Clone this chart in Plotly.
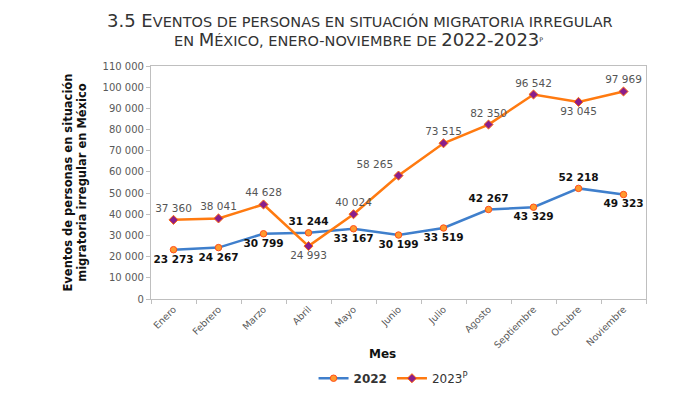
import plotly.graph_objects as go

meses = ["Enero", "Febrero", "Marzo", "Abril", "Mayo", "Junio", "Julio",
         "Agosto", "Septiembre", "Octubre", "Noviembre"]
v2022 = [23273, 24267, 30799, 31244, 33167, 30199, 33519, 42267, 43329, 52218, 49323]
v2023 = [37360, 38041, 44628, 24993, 40024, 58265, 73515, 82350, 96542, 93045, 97969]
pos2022 = ["bottom center", "bottom center", "bottom center", "top center", "bottom center",
           "bottom center", "bottom center", "top center", "bottom center", "top center",
           "bottom center"]
pos2023 = ["top center", "top center", "top center", "bottom center", "top center",
           "top left", "top center", "top center", "top center", "bottom center", "top center"]
yticks = list(range(0, 110001, 10000))
yticklabels = [f"{v:,}".replace(",", " ") for v in yticks]

def fmt(v):
    return f"{v:,}".replace(",", " ")

FONT = "DejaVu Sans"
fig = go.Figure()
fig.add_trace(go.Scatter(
    x=meses, y=v2022, name="<b>2022</b>", mode="lines+markers+text",
    line=dict(color="#3f7fcc", width=2.5),
    marker=dict(symbol="circle", size=6.5, color="#ff9a2e", line=dict(color="#ff4f1a", width=1)),
    text=[fmt(v) for v in v2022], textposition=pos2022,
    texttemplate="<b>%{text}</b>",
    textfont=dict(family=FONT, size=10.5, color="#111111"),
))
fig.add_trace(go.Scatter(
    x=meses, y=v2023, name="2023<sup>P</sup>", mode="lines+markers+text",
    line=dict(color="#ff7a10", width=2.5),
    marker=dict(symbol="diamond", size=7, color="#8a1e8c", line=dict(color="#ff6a10", width=1)),
    text=[fmt(v) for v in v2023], textposition=pos2023,
    textfont=dict(family=FONT, size=10.5, color="#555555"),
))

fig.update_layout(
    width=700, height=397,
    margin=dict(l=143, r=62, t=58, b=103),
    paper_bgcolor="white", plot_bgcolor="white",
    font=dict(family=FONT, color="#595959", size=10),
    showlegend=True,
    legend=dict(orientation="h", x=0.49, xanchor="center", y=-0.34, yanchor="middle",
                font=dict(family=FONT, size=12, color="#333333"), itemwidth=30),
    xaxis=dict(
        type="category", range=[-0.5, 10.5], showline=True, linecolor="#bfbfbf", linewidth=1.2,
        mirror=True, ticks="outside", tickson="boundaries", ticklen=4, tickcolor="#bfbfbf",
        tickangle=-45, tickfont=dict(family=FONT, size=9.5, color="#595959"), showgrid=False,
    ),
    yaxis=dict(
        range=[0, 110000], tickvals=yticks, ticktext=yticklabels, showline=True,
        linecolor="#bfbfbf", linewidth=1.2, mirror=True, ticks="outside", ticklen=4,
        tickcolor="#bfbfbf", tickfont=dict(family=FONT, size=10, color="#595959"),
        showgrid=False, zeroline=False,
    ),
)

ax_px = lambda x: (x - 143) / 495
ay_px = lambda y: (294 - y) / 236
fig.add_annotation(
    text="3.5 E<span style='font-size:14.5px'>VENTOS DE PERSONAS EN SITUACIÓN MIGRATORIA IRREGULAR</span>",
    x=ax_px(352), y=ay_px(12), xref="paper", yref="paper", showarrow=False,
    font=dict(family=FONT, size=18, color="#333333"), xanchor="center", yanchor="middle")
fig.add_annotation(
    text="<span style='font-size:14.5px'>EN </span>M<span style='font-size:14.5px'>ÉXICO, ENERO-NOVIEMBRE DE </span>2022-2023<span style='font-size:9px'><sup>P</sup></span>",
    x=ax_px(350), y=ay_px(31), xref="paper", yref="paper", showarrow=False,
    font=dict(family=FONT, size=18, color="#333333"), xanchor="center", yanchor="middle")
fig.add_annotation(
    text="<b>Eventos de personas en situación<br>migratoria irregular en México</b>",
    x=ax_px(67), y=ay_px(176), xref="paper", yref="paper", showarrow=False, textangle=-90,
    font=dict(family=FONT, size=11.5, color="#111111"), xanchor="center", yanchor="middle")
fig.add_annotation(
    text="<b>Mes</b>", x=ax_px(374), y=ay_px(350), xref="paper", yref="paper", showarrow=False,
    font=dict(family=FONT, size=12, color="#111111"), xanchor="center", yanchor="middle")

fig.write_html("out.html")
